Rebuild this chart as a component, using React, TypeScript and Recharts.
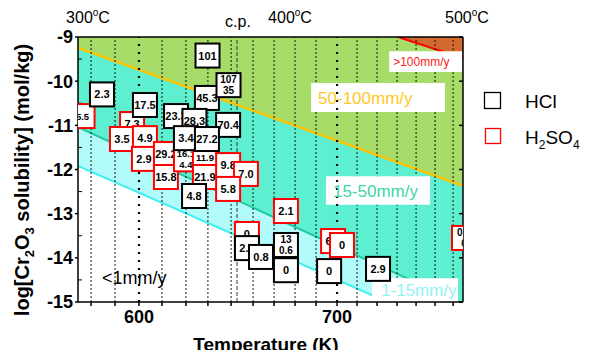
import React from 'react';
import { ComposedChart, Area, Scatter, XAxis, YAxis, ReferenceLine, ReferenceArea } from 'recharts';

const FONT = '"Liberation Sans", Arial, sans-serif';

// x axis (K) and y axis (log solubility)
const tempDomain = [569.2, 763.6];
const logDomain = [-15, -9];
const tempTicks = [575.8, 587.9, 600, 611.6, 623.7, 634.8, 646.5, 657.6, 668.2, 678.8, 689.4, 700, 710.1, 720.2, 730.3, 739.9, 749.5, 758.6];
const labeledTemps = [600, 700];
const isothermTemps = [600, 700];
const cpTemp = 649.5;
const logTicks = [-15, -14, -13, -12, -11, -10, -9];
const halfLogTicks = [-14.5, -13.5, -12.5, -11.5, -10.5, -9.5];

// corrosion-rate zone boundaries
const cyanBoundary = [{ t: 569.2, s: -11.92 }, { t: 763.6, s: -15.75 }];
const greenBoundary = [{ t: 569.2, s: -11.04 }, { t: 763.6, s: -15.05 }];
const yellowBoundary = [{ t: 569.2, s: -9.25 }, { t: 763.6, s: -12.37 }];
const redBoundary = [{ t: 730.8, s: -9.0 }, { t: 763.6, s: -9.48 }];

// measured corrosion rates (box label) at T / log solubility
const hclPoints = [
  { t: 634.6, s: -9.42, label: '101' },
  { t: 581.3, s: -10.3, label: '2.3' },
  { t: 603.0, s: -10.54, label: '17.5' },
  { t: 634.3, s: -10.38, label: '45.3' },
  { t: 645.2, s: -10.09, label: '107\n35' },
  { t: 618.7, s: -10.79, label: '23.3' },
  { t: 628.0, s: -10.9, label: '28.3' },
  { t: 645.0, s: -10.99, label: '70.4' },
  { t: 623.7, s: -11.29, label: '3.4' },
  { t: 634.3, s: -11.31, label: '27.2' },
  { t: 627.8, s: -12.6, label: '4.8' },
  { t: 654.5, s: -13.78, label: '2.3' },
  { t: 661.6, s: -13.98, label: '0.8' },
  { t: 674.2, s: -13.71, label: '13\n0.6' },
  { t: 674.2, s: -14.28, label: '0' },
  { t: 696.0, s: -14.3, label: '0' },
  { t: 720.7, s: -14.25, label: '2.9' },
];

const h2so4Points = [
  { t: 571.5, s: -10.79, label: '5.5' },
  { t: 596.5, s: -10.97, label: '7.3' },
  { t: 591.4, s: -11.31, label: '3.5' },
  { t: 603.0, s: -11.29, label: '4.9' },
  { t: 602.5, s: -11.76, label: '2.9' },
  { t: 613.6, s: -11.65, label: '29.2' },
  { t: 613.6, s: -12.17, label: '15.8' },
  { t: 623.7, s: -11.77, label: '16.1\n4.4' },
  { t: 633.3, s: -11.72, label: '11.9' },
  { t: 633.3, s: -12.17, label: '21.9' },
  { t: 645.0, s: -11.9, label: '9.8' },
  { t: 654.0, s: -12.1, label: '7.0' },
  { t: 645.0, s: -12.44, label: '5.8' },
  { t: 674.2, s: -12.94, label: '2.1' },
  { t: 654.5, s: -13.46, label: '0' },
  { t: 698.0, s: -13.62, label: '6.3' },
  { t: 702.5, s: -13.71, label: '0' },
  { t: 764.1, s: -13.55, label: '0.3\n0' },
];

// labels printed smaller in the figure
const smallLabels = ['5.5', '16.1\n4.4', '11.9'];

const boxShape = (color: string) => (props: any) => {
  const { cx, cy, payload } = props;
  const lines = String(payload.label).split('\n');
  const fs = smallLabels.includes(payload.label) ? 9.5 : lines.length > 1 ? 10 : 11;
  return (
    <g>
      <rect x={cx - 12} y={cy - 12} width={24} height={24} fill="#fff" stroke={color} strokeWidth={2} />
      {lines.map((l, i) => (
        <text key={i} x={cx} y={cy + (i - (lines.length - 1) / 2) * 11} textAnchor="middle" dominantBaseline="central"
          fontSize={fs} fontWeight="bold" fontFamily={FONT} fill="#000">{l}</text>
      ))}
    </g>
  );
};

const degLabel = (x: number, y: number, num: string, anchor: string = 'middle') => (
  <text x={x} y={y} fontSize={16} fontFamily={FONT} textAnchor={anchor} fill="#000">
    {num}<tspan fontSize={10} dy={-7}>o</tspan><tspan dy={7}>C</tspan>
  </text>
);

export default function App() {
  const noLabel = () => '';
  return (
    <div style={{ position: 'relative', width: 573, height: 342, fontFamily: FONT }}>
      <ComposedChart width={573} height={342} margin={{ top: 29, right: 118, bottom: 0, left: 0 }}>
        <XAxis dataKey="t" type="number" domain={tempDomain} allowDataOverflow ticks={tempTicks}
          tickFormatter={(v: number) => (labeledTemps.includes(v) ? String(v) : '')}
          height={48} tickSize={4} tickMargin={4} stroke="#000" strokeWidth={1.5}
          tick={{ fontSize: 18, fontWeight: 'bold', fill: '#000', fontFamily: FONT }} />
        <XAxis xAxisId="top" orientation="top" type="number" domain={tempDomain} allowDataOverflow ticks={tempTicks}
          mirror tickFormatter={noLabel} tickSize={4} height={30} stroke="#000" strokeWidth={1.5} />
        <YAxis dataKey="s" type="number" domain={logDomain} allowDataOverflow ticks={logTicks}
          width={70} tickSize={3} tickMargin={2} stroke="#000" strokeWidth={1.5}
          tick={{ fontSize: 18, fontWeight: 'bold', fill: '#000', fontFamily: FONT }} />
        <YAxis yAxisId="minor" type="number" domain={logDomain} allowDataOverflow ticks={halfLogTicks}
          mirror axisLine={false} tickFormatter={noLabel} tickSize={4} width={30} stroke="#000" />
        <YAxis yAxisId="right" orientation="right" type="number" domain={logDomain} allowDataOverflow
          ticks={[...halfLogTicks, ...logTicks]} mirror tickFormatter={noLabel} tickSize={4} width={30}
          stroke="#000" strokeWidth={1.5} />

        <Area data={cyanBoundary} dataKey="s" type="linear" baseValue={-9} fill="#b2fbfb" fillOpacity={1}
          stroke="#3ff0f0" strokeWidth={2} isAnimationActive={false} />
        <Area data={greenBoundary} dataKey="s" type="linear" baseValue={-9} fill="#5eefd1" fillOpacity={1}
          stroke="#22c89c" strokeWidth={2} isAnimationActive={false} />
        <Area data={yellowBoundary} dataKey="s" type="linear" baseValue={-9} fill="#a8dc68" fillOpacity={1}
          stroke="#ffc400" strokeWidth={2.5} isAnimationActive={false} />
        <Area data={redBoundary} dataKey="s" type="linear" baseValue={-9} fill="#d26a30" fillOpacity={1}
          stroke="#ff0000" strokeWidth={2} isAnimationActive={false} />

        {tempTicks.filter((t) => !isothermTemps.includes(t)).map((t) => (
          <ReferenceLine key={t} x={t} stroke="#000" strokeWidth={0.9} strokeDasharray="2 2" zIndex={110} />
        ))}

        <ReferenceArea x1={686.9} x2={754.5} y1={-10.7} y2={-10.04} fill="#fff" fillOpacity={1} stroke="none" zIndex={120}
          label={{ value: '50-100mm/y', position: 'insideLeft', offset: 7, fill: '#ffc828', fontSize: 17, fontFamily: FONT }} />
        <ReferenceArea x1={726.3} x2={763.1} y1={-9.79} y2={-9.32} fill="#fff" fillOpacity={1} stroke="none" zIndex={120}
          label={{ value: '>100mm/y', position: 'insideLeft', offset: 4, fill: '#ff2020', fontSize: 12, fontFamily: FONT }} />
        <ReferenceArea x1={694.4} x2={747.0} y1={-12.8} y2={-12.15} fill="#fff" fillOpacity={1} stroke="none" zIndex={120}
          label={{ value: '15-50mm/y', position: 'insideLeft', offset: 7, fill: '#3ed6aa', fontSize: 17, fontFamily: FONT }} />
        <ReferenceArea x1={717.7} x2={761.1} y1={-15} y2={-14.46} fill="#fff" fillOpacity={1} stroke="none" zIndex={120}
          label={{ value: '1-15mm/y', position: 'insideLeft', offset: 9, fill: '#90f4f4', fontSize: 17, fontFamily: FONT }} />
        <ReferenceArea x1={579.8} x2={623.7} y1={-14.73} y2={-14.16} fill="#fff" fillOpacity={0} stroke="none" zIndex={120}
          label={{ value: '<1mm/y', position: 'insideLeft', offset: 3, fill: '#000', fontSize: 18, fontFamily: FONT }} />

        {isothermTemps.map((t) => (
          <ReferenceLine key={t} x={t} stroke="#000" strokeWidth={2.2} strokeDasharray="2 6" zIndex={130} />
        ))}
        <ReferenceLine x={cpTemp} stroke="#333" strokeWidth={1} strokeDasharray="4 2" zIndex={130} />

        <Scatter name="H2SO4" data={h2so4Points} shape={boxShape('#ff0000')} isAnimationActive={false} />
        <Scatter name="HCl" data={hclPoints} shape={boxShape('#000')} isAnimationActive={false} />
      </ComposedChart>

      <svg width={573} height={350} style={{ position: 'absolute', left: 0, top: 0, pointerEvents: 'none', overflow: 'visible' }}>
        {degLabel(80, 15, '300')}
        <text x={230} y={19} fontSize={16} fontFamily={FONT} textAnchor="middle">c.p.</text>
        {degLabel(282, 15, '400')}
        {degLabel(437, 15, '500', 'start')}
        <text x={258} y={343} fontSize={19} fontWeight="bold" fontFamily={FONT} textAnchor="middle">Temperature (K)</text>
        <text transform="translate(21,172) rotate(-90)" fontSize={20} fontWeight="bold" fontFamily={FONT} textAnchor="middle">
          log[Cr<tspan fontSize={13} dy={5}>2</tspan><tspan dy={-5}>O</tspan><tspan fontSize={13} dy={5}>3</tspan>
          <tspan dy={-5}> solubility] (mol/kg)</tspan>
        </text>
        <rect x={476.5} y={84.5} width={16} height={16} fill="none" stroke="#000" strokeWidth={1.3} />
        <text x={517} y={100} fontSize={19} fontFamily={FONT}>HCl</text>
        <rect x={477.5} y={120.5} width={15} height={15} fill="none" stroke="#ff0000" strokeWidth={1.3} />
        <text x={517} y={136} fontSize={19} fontFamily={FONT}>
          H<tspan fontSize={12} dy={5}>2</tspan><tspan dy={-5}>SO</tspan><tspan fontSize={12} dy={5}>4</tspan>
        </text>
      </svg>
    </div>
  );
}
